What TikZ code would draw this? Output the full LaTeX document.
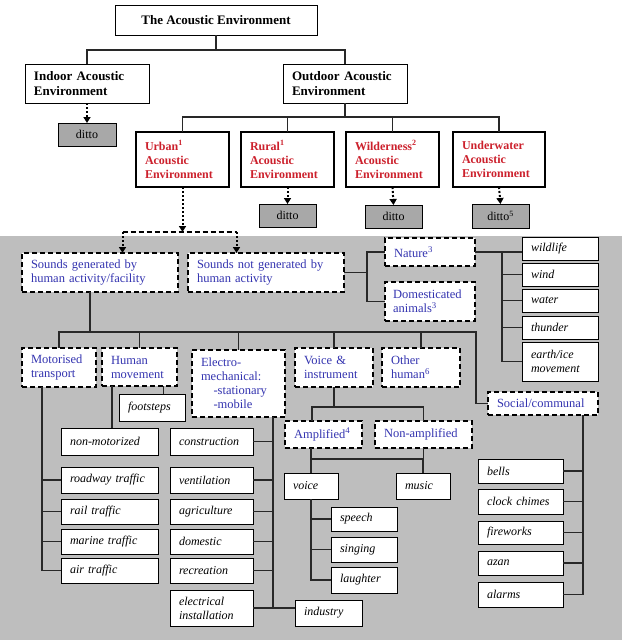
\documentclass[tikz,border=0pt]{standalone}
\usepackage{fontspec}
\setmainfont{Liberation Serif}
\usetikzlibrary{arrows.meta}
\definecolor{bggray}{RGB}{190,190,190}
\definecolor{dittogray}{RGB}{168,168,168}
\definecolor{envred}{RGB}{204,32,44}
\definecolor{catblue}{RGB}{52,52,176}
\definecolor{linegray}{RGB}{40,40,40}
\newcommand{\diagfont}{\fontsize{12}{14}\selectfont}
\newcommand{\catfont}{\fontsize{12.5}{14}\selectfont}
\newcommand{\headfont}{\fontsize{13}{14.5}\selectfont}
\tikzset{
  conn/.style={draw=linegray, line width=1.1pt},
  basebox/.style={anchor=north west, outer sep=0pt, inner xsep=9pt, inner ysep=2pt, align=left, fill=white},
  topbox/.style={basebox, draw, line width=1pt, font=\headfont\bfseries},
  envbox/.style={basebox, draw, line width=2.6pt, text=envred, font=\diagfont\bfseries},
  dittobox/.style={basebox, draw, line width=1pt, fill=dittogray, align=center, font=\diagfont},
  catbox/.style={basebox, draw, line width=2pt, dash pattern=on 5pt off 3pt, text=catblue, font=\catfont},
  leaf/.style={basebox, draw, line width=1pt, font=\diagfont\itshape},
  dotarrow/.style={draw=black, line width=2pt, dotted, -{Triangle[width=7pt,length=6pt]}},
  dashline/.style={draw=black, line width=2pt, dash pattern=on 5pt off 3pt},
}
\begin{document}
\begin{tikzpicture}[x=1pt, y=-1pt]
  \useasboundingbox (0,0) rectangle (627,640);
  \fill[bggray] (0,236) rectangle (622,640);

  % upper part
  \node[topbox, minimum width=202pt, minimum height=30pt, align=center] (title) at (115,5) {The Acoustic Environment};
  \node[topbox, text width=106pt, minimum height=39pt] (indoor) at (25,64) {Indoor Acoustic\\Environment};
  \node[topbox, text width=106pt, minimum height=39pt] (outdoor) at (283,64) {Outdoor Acoustic\\Environment};
  \node[dittobox, minimum width=58pt, minimum height=23pt] (dittoA) at (58,123) {ditto};
  \node[envbox, text width=75pt, minimum height=55pt] (urban) at (136,132) {Urban\textsuperscript{1}\\Acoustic\\Environment};
  \node[envbox, text width=75pt, minimum height=55pt] (rural) at (241,132) {Rural\textsuperscript{1}\\Acoustic\\Environment};
  \node[envbox, text width=75pt, minimum height=55pt] (wild) at (346,132) {Wilderness\textsuperscript{2}\\Acoustic\\Environment};
  \node[envbox, text width=74pt, minimum height=55pt] (under) at (453,132) {Underwater\\Acoustic\\Environment};
  \node[dittobox, minimum width=57pt, minimum height=23pt] (dittoB) at (259,204) {ditto};
  \node[dittobox, minimum width=57pt, minimum height=23pt] (dittoC) at (365,205) {ditto};
  \node[dittobox, minimum width=57pt, minimum height=24pt] (dittoD) at (472,204) {ditto\textsuperscript{5}};

  \draw[conn] (title.south) -- ++(0,15) coordinate (t1) -| (indoor.north);
  \draw[conn] (t1) -| (outdoor.north);
  \draw[conn] (outdoor.south) -- ++(0,14) coordinate (o1) -| (urban.north);
  \foreach \n in {rural,wild,under}
    \draw[conn] (o1) -| (\n.north);
  \foreach \a/\b in {indoor/dittoA,rural/dittoB,wild/dittoC,under/dittoD}
    \draw[dotarrow] (\a.south) -- (\b.north);

  % lower part
  \node[catbox, text width=138pt, minimum height=39pt] (gen) at (22,253) {Sounds generated by\\human activity/facility};
  \node[catbox, text width=138pt, minimum height=39pt] (notgen) at (188,253) {Sounds not generated by\\human activity};
  \node[catbox, text width=72pt, minimum height=28pt] (nature) at (385,238) {Nature\textsuperscript{3}};
  \node[catbox, inner xsep=8pt, text width=74pt, minimum height=39pt] (domanim) at (385,282) {Domesticated\\animals\textsuperscript{3}};
  \node[leaf, text width=58pt, minimum height=23pt] (wildlife) at (522,237) {wildlife};
  \node[leaf, text width=58pt, minimum height=23pt] (wind) at (522,263) {wind};
  \node[leaf, text width=58pt, minimum height=23pt] (water) at (522,289) {water};
  \node[leaf, text width=58pt, minimum height=23pt] (thunder) at (522,316) {thunder};
  \node[leaf, text width=58pt, minimum height=39pt] (earth) at (522,342) {earth/ice\\movement};

  \node[catbox, text width=56pt, minimum height=39pt] (motor) at (22,348) {Motorised\\transport};
  \node[catbox, text width=57pt, minimum height=38pt] (human) at (102,348) {Human\\movement};
  \node[catbox, text width=75pt, minimum height=67pt] (electro) at (192,350) {Electro-\\mechanical:\\\hspace*{1em}-stationary\\\hspace*{1em}-mobile};
  \node[catbox, text width=60pt, minimum height=39pt] (voiceinst) at (295,348) {Voice \&\\instrument};
  \node[catbox, text width=60pt, minimum height=39pt] (other) at (382,348) {Other\\human\textsuperscript{6}};
  \node[catbox, text width=92pt, minimum height=23pt] (social) at (488,392) {Social/communal};

  \node[leaf, text width=48pt, minimum height=27pt] (footsteps) at (119,394) {footsteps};
  \node[leaf, text width=79pt, minimum height=27pt] (nonmotor) at (61,428) {non-motorized};
  \node[leaf, text width=79pt, minimum height=26pt] (roadway) at (61,467) {roadway traffic};
  \node[leaf, text width=79pt, minimum height=25pt] (rail) at (61,499) {rail traffic};
  \node[leaf, text width=79pt, minimum height=25pt] (marine) at (61,529) {marine traffic};
  \node[leaf, text width=79pt, minimum height=25pt] (air) at (61,558) {air traffic};

  \node[leaf, text width=65pt, minimum height=27pt] (construction) at (170,428) {construction};
  \node[leaf, text width=65pt, minimum height=26pt] (ventilation) at (170,467) {ventilation};
  \node[leaf, text width=65pt, minimum height=25pt] (agriculture) at (170,499) {agriculture};
  \node[leaf, text width=65pt, minimum height=25pt] (domestic) at (170,529) {domestic};
  \node[leaf, text width=65pt, minimum height=25pt] (recreation) at (170,558) {recreation};
  \node[leaf, text width=65pt, minimum height=36pt] (elec) at (170,590) {electrical\\installation};
  \node[leaf, text width=49pt, minimum height=26pt] (industry) at (295,600) {industry};

  \node[catbox, text width=59pt, minimum height=27pt] (amp) at (285,421) {Amplified\textsuperscript{4}};
  \node[catbox, text width=79pt, minimum height=27pt] (nonamp) at (375,421) {Non-amplified};
  \node[leaf, text width=36pt, minimum height=26pt] (voice) at (284,473) {voice};
  \node[leaf, text width=36pt, minimum height=26pt] (music) at (396,473) {music};
  \node[leaf, text width=48pt, minimum height=24pt] (speech) at (331,507) {speech};
  \node[leaf, text width=48pt, minimum height=25pt] (singing) at (331,537) {singing};
  \node[leaf, text width=48pt, minimum height=26pt] (laughter) at (331,567) {laughter};

  \node[leaf, text width=67pt, minimum height=24pt] (bells) at (478,459) {bells};
  \node[leaf, text width=67pt, minimum height=25pt] (chimes) at (478,489) {clock chimes};
  \node[leaf, text width=67pt, minimum height=23pt] (fireworks) at (478,521) {fireworks};
  \node[leaf, text width=67pt, minimum height=24pt] (azan) at (478,551) {azan};
  \node[leaf, text width=67pt, minimum height=25pt] (alarms) at (478,582) {alarms};

  % urban split
  \draw[dashline] (urban.south) ++(0,45) coordinate (split) ++(-60,0) coordinate (sl) -- ++(114,0) coordinate (sr);
  \draw[dotarrow] (urban.south) -- (split);
  \draw[dotarrow] (sl) -- (sl |- gen.north);
  \draw[dotarrow] (sr) -- (sr |- notgen.north);

  % not generated by humans
  \draw[conn] (notgen.east) -- ++(23,0) coordinate (n1) |- (nature.west);
  \draw[conn] (n1) |- (domanim.west);
  \draw[conn] (nature.east) -- ++(27,0) coordinate (n2) -- (n2 -| wildlife.west);
  \draw[conn] (n2) |- (earth.west);
  \foreach \n in {wind,water,thunder}
    \draw[conn] (n2 |- \n.west) -- (\n.west);

  % generated by humans
  \draw[conn] ([xshift=-10pt]gen.south) -- ++(0,40) coordinate (g1);
  \draw[conn] (motor.north) |- (g1) -- ++(386,0) |- (social.west);
  \foreach \n in {human,electro,voiceinst,other}
    \draw[conn] (\n.north) -- (\n.north |- g1);

  \coordinate (m1) at ([xshift=-17pt]motor.south);
  \draw[conn] (m1) |- (air.west);
  \foreach \n in {roadway,rail,marine}
    \draw[conn] (m1 |- \n.west) -- (\n.west);

  \draw[conn] ([xshift=-27.5pt]human.south) -- ([xshift=-27.5pt]human.south |- nonmotor.north);
  \draw[conn] ([xshift=24pt]human.south) -- ([xshift=24pt]human.south |- footsteps.north);

  \coordinate (e1) at ([xshift=34.5pt]electro.south);
  \draw[conn] (e1) |- (elec.east);
  \foreach \n in {construction,ventilation,agriculture,domestic,recreation}
    \draw[conn] (\n.east) -- (\n.east -| e1);
  \draw[conn] (elec.east) -- (elec.east -| industry.west);

  \draw[conn] (voiceinst.south) -- ++(0,20) coordinate (v1);
  \draw[conn] ([xshift=-11.5pt]amp.north) |- (v1) -| (nonamp.north);
  \draw[conn] (voice.north) -- ++(0,-14) coordinate (v2) -| (music.north);
  \draw[conn] (v2) -- (v2 |- amp.south);
  \draw[conn] (nonamp.south) -- (nonamp.south |- v2);
  \draw[conn] (voice.south) |- (laughter.west);
  \foreach \n in {speech,singing}
    \draw[conn] (voice.south |- \n.west) -- (\n.west);

  \coordinate (s1) at ([xshift=40pt]social.south);
  \draw[conn] (s1) |- (alarms.east);
  \foreach \n in {bells,chimes,fireworks,azan}
    \draw[conn] (\n.east) -- (\n.east -| s1);
\end{tikzpicture}
\end{document}
